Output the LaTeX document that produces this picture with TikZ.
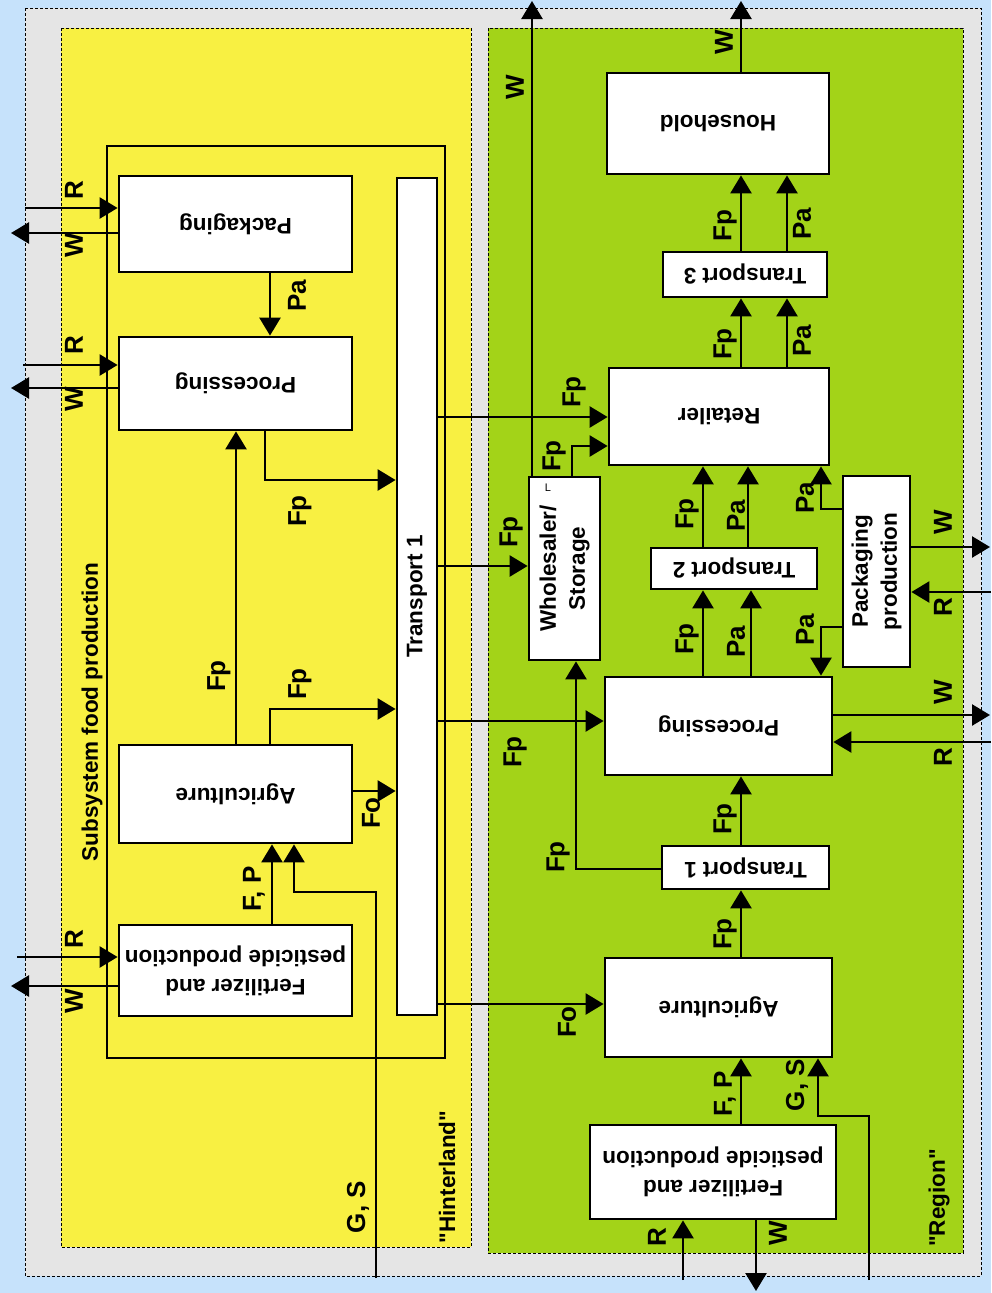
\documentclass[tikz,border=0pt]{standalone}
\usepackage{fontspec}
\setmainfont{Liberation Sans}
\usetikzlibrary{arrows.meta,calc}
\definecolor{bgblue}{RGB}{198,226,251}
\definecolor{ggray}{RGB}{229,229,229}
\definecolor{hyellow}{RGB}{248,240,66}
\definecolor{rgreen}{RGB}{163,211,24}
\newcommand\boxfont{\fontsize{22.5}{29}\selectfont\bfseries}
\newcommand\lblfont{\fontsize{26}{30}\selectfont\bfseries}
\begin{document}
\begin{tikzpicture}[x=1pt,y=-1pt,
 box/.style={draw, line width=2.8pt, fill=white, inner sep=0pt, font=\boxfont},
 arr/.style={line width=2.6pt, -{Triangle[length=18pt,width=21pt]}, line join=miter},
 lbl/.style={rotate=90, inner sep=0pt, font=\lblfont},
 ttl/.style={rotate=90, inner sep=0pt, font=\boxfont},
 zone/.style={draw=black, line width=1pt, dash pattern=on 3pt off 2pt}
]
\useasboundingbox (0,0) rectangle (991,1293);
\fill[bgblue] (0,0) rectangle (991,1293);
\filldraw[fill=ggray, zone] (25,8) rectangle (981,1276);
\filldraw[fill=hyellow, zone] (61,28) rectangle (471,1247);
\filldraw[fill=rgreen, zone] (488,28) rectangle (963,1253);
\draw[line width=2.8pt] (107,146) rectangle (445,1058);

% boxes left
\node[box, minimum width=233pt, minimum height=96pt] (packL) at (235.5,224) {\rotatebox{180}{Packaging}};
\node[box, minimum width=233pt, minimum height=93pt] (procL) at (235.5,383.5) {\rotatebox{180}{Processing}};
\node[box, minimum width=40pt, minimum height=837pt] (T1L) at (417,596.5) {\rotatebox{90}{Transport 1}};
\node[box, minimum width=233pt, minimum height=98pt] (agriL) at (235.5,794) {\rotatebox{180}{Agriculture}};
\node[box, minimum width=233pt, minimum height=91pt] (fertL) at (235.5,970.5) {\rotatebox{180}{\begin{tabular}{@{}c@{}}Fertilizer and\\pesticide production\end{tabular}}};

% boxes right
\node[box, minimum width=222pt, minimum height=101pt] (house) at (718,123.5) {\rotatebox{180}{Household}};
\node[box, minimum width=164pt, minimum height=45pt] (T3) at (745,274.5) {\rotatebox{180}{Transport 3}};
\node[box, minimum width=220pt, minimum height=97pt] (ret) at (719,416.5) {\rotatebox{180}{Retailer}};
\node[box, minimum width=71pt, minimum height=183pt] (whole) at (564.5,568.5) {\rotatebox{90}{\begin{tabular}{@{}c@{}}Wholesaler/\\Storage\end{tabular}}};
\node[box, minimum width=166pt, minimum height=41pt] (T2) at (734,568.5) {\rotatebox{180}{Transport 2}};
\node[box, minimum width=67pt, minimum height=191pt] (packP) at (876.5,571.5) {\rotatebox{90}{\begin{tabular}{@{}c@{}}Packaging\\production\end{tabular}}};
\node[box, minimum width=227pt, minimum height=98pt] (procR) at (718.5,726) {\rotatebox{180}{Processing}};
\node[box, minimum width=167pt, minimum height=43pt] (T1R) at (745.5,867.5) {\rotatebox{180}{Transport 1}};
\node[box, minimum width=227pt, minimum height=99pt] (agriR) at (718.5,1007.5) {\rotatebox{180}{Agriculture}};
\node[box, minimum width=246pt, minimum height=94pt] (fertR) at (713,1172) {\rotatebox{180}{\begin{tabular}{@{}c@{}}Fertilizer and\\pesticide production\end{tabular}}};
\node[inner sep=0pt, font=\fontsize{11}{12}\selectfont] (mark) at (548,488) {L};

% free ends
\coordinate (rA) at (25,208);  \coordinate (wA) at (11,233);
\coordinate (rB) at (23,365);  \coordinate (wB) at (11,388);
\coordinate (rC) at (17,957);  \coordinate (wC) at (11,986);
\coordinate (gsL) at (376,1278);
\coordinate (wTop1) at (532,1); \coordinate (wTop2) at (741,1);
\coordinate (wE1) at (990,547); \coordinate (rE1) at (991,592);
\coordinate (wE2) at (990,715); \coordinate (rE2) at (991,742);
\coordinate (gsR) at (869,1280); \coordinate (rBot) at (683,1280); \coordinate (wBot) at (756,1291);

% left connectors
\draw[arr] (rA) -- (packL.west |- rA);
\draw[arr] (packL.west |- wA) -- (wA);
\draw[arr] (rB) -- (procL.west |- rB);
\draw[arr] (procL.west |- wB) -- (wB);
\draw[arr] (rC) -- (fertL.west |- rC);
\draw[arr] (fertL.west |- wC) -- (wC);
\draw[arr] (packL.south -| 270,0) -- (procL.north -| 270,0);
\draw[arr] (procL.south -| 265,0) |- (T1L.west |- 0,480);
\draw[arr] (agriL.north -| 236,0) -- (procL.south -| 236,0);
\draw[arr] (agriL.north -| 270,0) |- (T1L.west |- 0,709);
\draw[arr] (agriL.east |- 0,791) -- (T1L.west |- 0,791);
\draw[arr] (fertL.north -| 272,0) -- (agriL.south -| 272,0);
\draw[arr] (gsL) -- (gsL |- 0,892) -| (agriL.south -| 294,0);

% transport 1 to region
\draw[arr] (T1L.east |- 0,417) -- (ret.west |- 0,417);
\draw[arr] (T1L.east |- 0,566) -- (whole.west |- 0,566);
\draw[arr] (T1L.east |- 0,721) -- (procR.west |- 0,721);
\draw[arr] (T1L.east |- 0,1004) -- (agriR.west |- 0,1004);

% right connectors
\draw[arr] (whole.north -| wTop1) -- (wTop1);
\draw[arr] (whole.north -| 572,0) |- (ret.west |- 0,446);
\draw[arr] (T1R.west |- 0,869) -| (whole.south -| 576,0);
\draw[arr] (T1R.north -| 741,0) -- (procR.south -| 741,0);
\draw[arr] (agriR.north -| 741,0) -- (T1R.south -| 741,0);
\draw[arr] (fertR.north -| 741,0) -- (agriR.south -| 741,0);
\draw[arr] (gsR) -- (gsR |- 0,1116) -| (agriR.south -| 818,0);
\draw[arr] (rBot) -- (fertR.south -| rBot);
\draw[arr] (fertR.south -| wBot) -- (wBot);
\draw[arr] (procR.north -| 703,0) -- (T2.south -| 703,0);
\draw[arr] (procR.north -| 751,0) -- (T2.south -| 751,0);
\draw[arr] (T2.north -| 703,0) -- (ret.south -| 703,0);
\draw[arr] (T2.north -| 748,0) -- (ret.south -| 748,0);
\draw[arr] (packP.west |- 0,509) -| (ret.south -| 821,0);
\draw[arr] (packP.west |- 0,627) -| (procR.north -| 821,0);
\draw[arr] (packP.east |- wE1) -- (wE1);
\draw[arr] (rE1) -- (packP.east |- rE1);
\draw[arr] (procR.east |- wE2) -- (wE2);
\draw[arr] (rE2) -- (procR.east |- rE2);
\draw[arr] (ret.north -| 741,0) -- (T3.south -| 741,0);
\draw[arr] (ret.north -| 787,0) -- (T3.south -| 787,0);
\draw[arr] (T3.north -| 741,0) -- (house.south -| 741,0);
\draw[arr] (T3.north -| 787,0) -- (house.south -| 787,0);
\draw[arr] (house.north -| wTop2) -- (wTop2);

% labels left
\node[lbl] (l1) at (74,190) {R};
\node[lbl] (l2) at (74,245) {W};
\node[lbl] (l3) at (74,345) {R};
\node[lbl] (l4) at (74,399) {W};
\node[lbl] (l5) at (74,939) {R};
\node[lbl] (l6) at (74,1001) {W};
\node[lbl] (l7) at (297,296) {Pa};
\node[lbl] (l8) at (300,511) {Fp};
\node[lbl] (l9) at (219,676) {Fp};
\node[lbl] (l10) at (300,684) {Fp};
\node[lbl] (l11) at (371,813) {Fo};
\node[lbl] (l12) at (254,889) {F, P};
\node[lbl] (l13) at (358,1207) {G, S};
\node[ttl] (t1) at (92,712) {Subsystem food production};
\node[ttl] (t2) at (447,1177) {\textquotedbl Hinterland\textquotedbl};
\node[ttl] (t3) at (939,1198) {\textquotedbl Region\textquotedbl};

% labels right
\node[lbl] (m1) at (515,87) {W};
\node[lbl] (m2) at (574,392) {Fp};
\node[lbl] (m3) at (554,456) {Fp};
\node[lbl] (m4) at (511,532) {Fp};
\node[lbl] (m5) at (515,752) {Fp};
\node[lbl] (m6) at (558,857) {Fp};
\node[lbl] (m7) at (567,1022) {Fo};
\node[lbl] (m8) at (725,819) {Fp};
\node[lbl] (m9) at (725,934) {Fp};
\node[lbl] (m10) at (725,1094) {F, P};
\node[lbl] (m11) at (797,1085) {G, S};
\node[lbl] (m12) at (657,1237) {R};
\node[lbl] (m13) at (778,1233) {W};
\node[lbl] (m14) at (687,639) {Fp};
\node[lbl] (m15) at (736,642) {Pa};
\node[lbl] (m16) at (687,514) {Fp};
\node[lbl] (m17) at (736,516) {Pa};
\node[lbl] (m18) at (805,498) {Pa};
\node[lbl] (m19) at (805,630) {Pa};
\node[lbl] (m20) at (943,522) {W};
\node[lbl] (m21) at (943,607) {R};
\node[lbl] (m22) at (943,692) {W};
\node[lbl] (m23) at (943,757) {R};
\node[lbl] (m24) at (725,344) {Fp};
\node[lbl] (m25) at (802,341) {Pa};
\node[lbl] (m26) at (725,226) {Fp};
\node[lbl] (m27) at (802,224) {Pa};
\node[lbl] (m28) at (724,42) {W};
\end{tikzpicture}
\end{document}
